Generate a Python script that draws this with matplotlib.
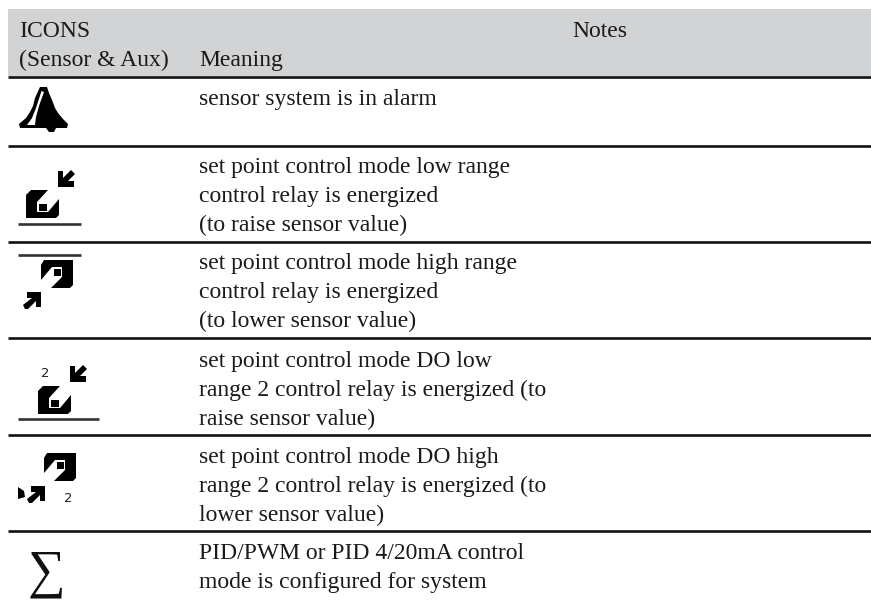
import matplotlib
matplotlib.use('Agg')
import matplotlib.pyplot as plt
from matplotlib.patches import Polygon, Rectangle

# table text
header_left = ['ICONS', '(Sensor & Aux)']
header_meaning = 'Meaning'
header_notes = 'Notes'
meanings = [
    ['sensor system is in alarm'],
    ['set point control mode low range', 'control relay is energized', '(to raise sensor value)'],
    ['set point control mode high range', 'control relay is energized', '(to lower sensor value)'],
    ['set point control mode DO low', 'range 2 control relay is energized (to', 'raise sensor value)'],
    ['set point control mode DO high', 'range 2 control relay is energized (to', 'lower sensor value)'],
    ['PID/PWM or PID 4/20mA control', 'mode is configured for system'],
]
first_baseline = [105, 173, 269, 367, 463, 559]
rule_y = [77, 146, 242, 338, 435, 531]

plt.rcParams['font.family'] = ['Liberation Serif', 'DejaVu Serif']
fig = plt.figure(figsize=(8.71, 6.05), dpi=100)
ax = fig.add_axes([0, 0, 1, 1])
ax.set_xlim(0, 871); ax.set_ylim(605, 0); ax.axis('off')

FS = 17
LH = 28.8
TXT = '#1a1a1a'

ax.add_patch(Rectangle((8, 9), 863, 67, fc='#d1d3d4', ec='none'))
ax.text(19, 37, header_left[0], fontsize=FS, va='baseline', color=TXT)
ax.text(19, 66, header_left[1], fontsize=FS, va='baseline', color=TXT)
ax.text(199, 66, header_meaning, fontsize=FS, va='baseline', color=TXT)
ax.text(572, 37, header_notes, fontsize=FS, va='baseline', color=TXT)

for y in rule_y:
    ax.plot([8, 871], [y, y], color='#111111', lw=1.9, solid_capstyle='butt')

for lines, y0 in zip(meanings, first_baseline):
    for i, s in enumerate(lines):
        ax.text(199, y0 + i * LH, s, fontsize=FS, va='baseline', color=TXT)


def poly(pts, fc='black'):
    ax.add_patch(Polygon(pts, closed=True, fc=fc, ec='none'))


def block_low(x, y):
    # solid block, notch from the top right down to the small square
    poly([(x+5, y), (x+22, y), (x+11, y+12), (x+11, y+22), (x+22, y+22), (x+33, y+9),
          (x+33, y+25), (x+30, y+28), (x, y+28), (x, y+5)])
    ax.add_patch(Rectangle((x+12.5, y+13.5), 8, 7.5, fc='black', ec='none'))


def block_high(x, y):
    poly([(x+3, y), (x+32, y), (x+32, y+25), (x+29, y+28), (x+10, y+28), (x+21, y+17),
          (x+21, y+7), (x+11, y+7), (x, y+20), (x, y+5)])
    ax.add_patch(Rectangle((x+12.5, y+8.5), 7.5, 7.5, fc='black', ec='none'))


def arrow_in(x, y):
    # arrow pointing down-left
    poly([(x+13, y), (x+17, y+4), (x+10, y+11), (x+16, y+11), (x+16, y+17), (x, y+17),
          (x, y+1), (x+5, y+1), (x+5, y+8)])


def arrow_out(x, y):
    # arrow pointing up-right
    poly([(x+1, y+17), (x-1, y+13), (x+8, y+6), (x+3, y+6), (x+3, y), (x+17, y),
          (x+17, y+15), (x+12, y+15), (x+12, y+9), (x+4, y+17)])


# bell
poly([(40, 87), (47, 87), (49, 93), (52, 100), (55, 108), (58, 113), (63, 119), (68, 124), (67, 128),
      (56, 128), (54, 132), (49, 132), (46, 128), (20, 128), (19, 124), (26, 118), (30, 112), (33, 106),
      (35, 98)])
poly([(41.5, 91), (44, 92), (39, 106), (36, 117), (35, 125), (27, 125), (32, 118), (36, 108)], fc='white')

# low range
arrow_in(58, 170)
block_low(26, 190)
ax.plot([18, 81], [224, 224], color='#333333', lw=1.9, solid_capstyle='butt')

# high range
ax.plot([18, 81], [254.5, 254.5], color='#333333', lw=1.9, solid_capstyle='butt')
block_high(41, 260)
arrow_out(24, 292)

# DO low
ax.text(41, 377, '2', fontsize=9.5, family='DejaVu Sans', va='baseline', color='#222222')
arrow_in(70, 365)
block_low(38, 386)
ax.plot([18, 99], [419, 419], color='#333333', lw=1.9, solid_capstyle='butt')

# DO high
block_high(44, 453)
arrow_out(28, 486)
poly([(18, 487), (24, 491), (25, 497), (18, 499)])
ax.text(64, 502, '2', fontsize=9.5, family='DejaVu Sans', va='baseline', color='#222222')

# sigma
ax.text(46, 586, '\u2211', fontsize=38, family='Liberation Serif', va='baseline', ha='center', color='#111111')

fig.savefig('out.png', dpi=100)
